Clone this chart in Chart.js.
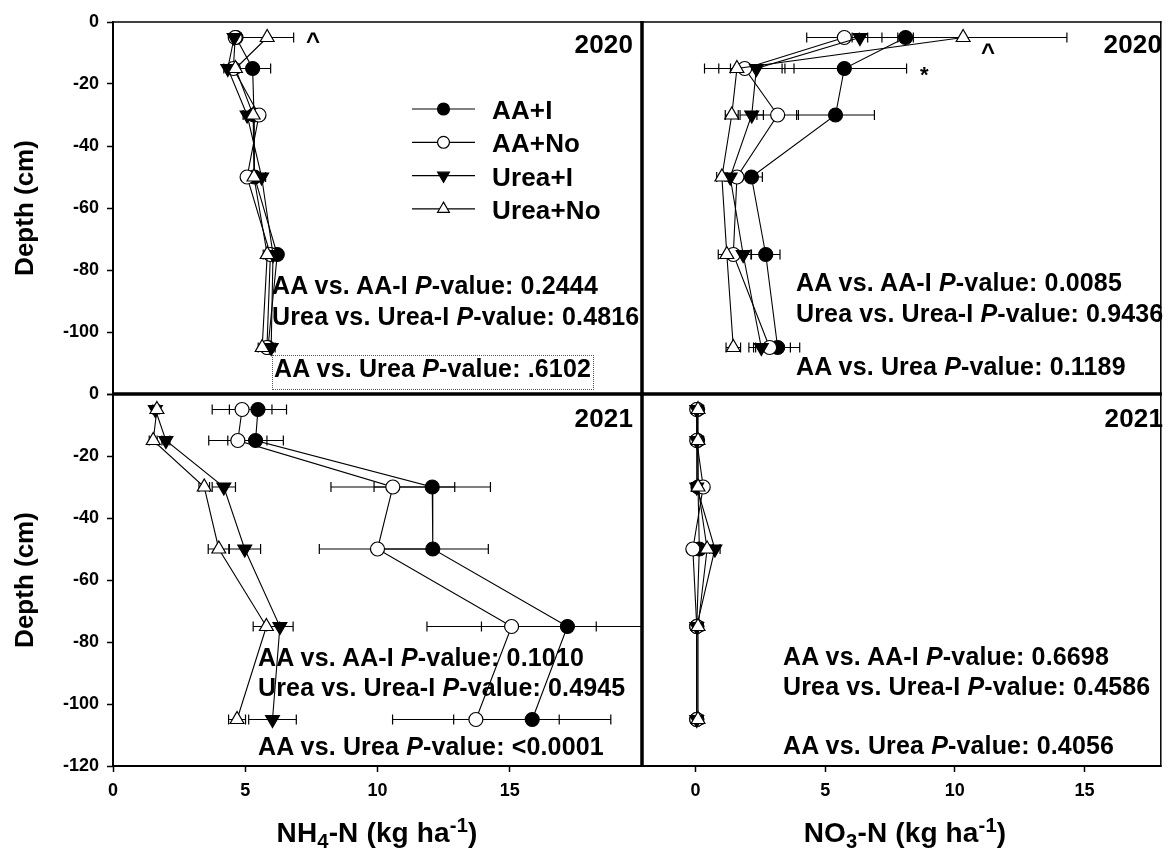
<!doctype html>
<html lang="en">
<head>
  <meta charset="utf-8">
  <title>Soil NH4-N and NO3-N by depth, 2020-2021</title>
  <script src="https://cdn.jsdelivr.net/npm/chart.js"></script>
  <style>
    html, body { margin: 0; padding: 0; background: #fff; }
    #fig {
      position: relative; width: 1170px; height: 863px; overflow: hidden;
      font-family: "Liberation Sans", Arial, sans-serif; font-weight: bold; color: #000;
    }
    #fig canvas { position: absolute; left: 0; top: 0; }
    .t { position: absolute; line-height: 1; white-space: nowrap; letter-spacing: 0.15px; }
    .t sub, .t sup { font-size: 72%; line-height: 0; }
    .t sub { vertical-align: -0.28em; }
    .t sup { vertical-align: 0.5em; }
    .box { position: absolute; border: 1px dotted #555; }
  </style>
</head>
<body>
  <div id="fig">
    <canvas id="nh4_20" width="1170" height="863"></canvas>
    <canvas id="no3_20" width="1170" height="863"></canvas>
    <canvas id="nh4_21" width="1170" height="863"></canvas>
    <canvas id="no3_21" width="1170" height="863"></canvas>
  </div>

  <script>
    // ---- data ----
    const depths = [-5, -15, -30, -50, -75, -105];
    const seriesNames = ["AA+I", "AA+No", "Urea+I", "Urea+No"];
    const depthTicksStep = 20;
    const xTicks = [0, 5, 10, 15];

    // NH4-N 2020
    const nh4_2020_aaI      = [4.65, 5.28, 5.33, 5.35, 6.21, 5.86];
    const nh4_2020_aaI_se   = [0.15, 0.68, 0.15, 0.15, 0.15, 0.15];
    const nh4_2020_aaNo     = [4.62, 4.55, 5.52, 5.07, 5.95, 5.82];
    const nh4_2020_aaNo_se  = [0.15, 0.15, 0.15, 0.15, 0.15, 0.15];
    const nh4_2020_ureaI    = [4.58, 4.34, 5.07, 5.62, 6.05, 5.98];
    const nh4_2020_ureaI_se = [0.15, 0.15, 0.15, 0.15, 0.15, 0.15];
    const nh4_2020_ureaNo   = [5.83, 4.63, 5.30, 5.33, 5.83, 5.64];
    const nh4_2020_ureaNo_se= [1.0, 0.15, 0.15, 0.15, 0.15, 0.15];

    // NO3-N 2020
    const no3_2020_aaI      = [8.10, 5.74, 5.40, 2.16, 2.71, 3.17];
    const no3_2020_aaI_se   = [0.3, 2.4, 1.5, 0.42, 0.55, 0.85];
    const no3_2020_aaNo     = [5.74, 1.90, 3.17, 1.60, 1.46, 2.86];
    const no3_2020_aaNo_se  = [1.45, 1.55, 0.8, 0.2, 0.2, 0.8];
    const no3_2020_ureaI    = [6.34, 2.35, 2.17, 1.34, 1.84, 2.54];
    const no3_2020_ureaI_se = [0.3, 1.45, 0.45, 0.2, 0.3, 0.3];
    const no3_2020_ureaNo   = [10.32, 1.60, 1.40, 1.02, 1.21, 1.46];
    const no3_2020_ureaNo_se= [4.0, 0.25, 0.25, 0.2, 0.33, 0.28];

    // NH4-N 2021
    const nh4_2021_aaI      = [5.48, 5.39, 12.07, 12.09, 17.18, 15.85];
    const nh4_2021_aaI_se   = [1.08, 1.05, 2.2, 2.1, 3.25, 2.97];
    const nh4_2021_aaNo     = [4.88, 4.72, 10.58, 10.00, 15.07, 13.72];
    const nh4_2021_aaNo_se  = [1.13, 1.1, 2.34, 2.2, 3.2, 3.15];
    const nh4_2021_ureaI    = [1.60, 2.00, 4.19, 4.98, 6.31, 6.03];
    const nh4_2021_ureaI_se = [0.1, 0.15, 0.44, 0.6, 0.5, 0.9];
    const nh4_2021_ureaNo   = [1.66, 1.52, 3.45, 4.00, 5.80, 4.69];
    const nh4_2021_ureaNo_se= [0.1, 0.15, 0.2, 0.4, 0.5, 0.32];

    // NO3-N 2021
    const no3_2021_aaI      = [0.08, 0.08, 0.10, 0.15, 0.05, 0.05];
    const no3_2021_aaI_se   = [0.2, 0.2, 0.2, 0.2, 0.2, 0.2];
    const no3_2021_aaNo     = [0.05, 0.05, 0.30, -0.10, 0.05, 0.05];
    const no3_2021_aaNo_se  = [0.2, 0.2, 0.2, 0.2, 0.2, 0.2];
    const no3_2021_ureaI    = [0.05, 0.05, 0.05, 0.75, 0.05, 0.05];
    const no3_2021_ureaI_se = [0.2, 0.2, 0.2, 0.2, 0.2, 0.2];
    const no3_2021_ureaNo   = [0.10, 0.10, 0.10, 0.45, 0.10, 0.10];
    const no3_2021_ureaNo_se= [0.2, 0.2, 0.2, 0.2, 0.2, 0.2];

    const FONT = '"Liberation Sans", Arial, sans-serif';

    // marker per series: filled/open circle, filled down-triangle, open triangle
    const markers = [
      { style: "circle",   rot: 0,   r: 7, fill: "#000" },
      { style: "circle",   rot: 0,   r: 7, fill: "#fff" },
      { style: "triangle", rot: 180, r: 8, fill: "#000" },
      { style: "triangle", rot: 0,   r: 8, fill: "#fff" }
    ];

    function drawMarker(ctx, m, x, y, r) {
      ctx.beginPath();
      if (m.style === "circle") {
        ctx.arc(x, y, r, 0, Math.PI * 2);
      } else {
        const s = m.rot ? -1 : 1;
        ctx.moveTo(x, y - s * r);
        ctx.lineTo(x + r * 0.866, y + s * r * 0.5);
        ctx.lineTo(x - r * 0.866, y + s * r * 0.5);
        ctx.closePath();
      }
      ctx.fillStyle = m.fill;
      ctx.fill();
      ctx.lineWidth = 1.2;
      ctx.strokeStyle = "#000";
      ctx.stroke();
    }

    // horizontal error bars, drawn under the lines and markers
    const errorBars = {
      id: "errbars",
      beforeDatasetsDraw(c) {
        const ctx = c.ctx, xs = c.scales.x, ys = c.scales.y, a = c.chartArea;
        ctx.save();
        ctx.beginPath();
        ctx.rect(a.left, a.top, a.right - a.left, a.bottom - a.top);
        ctx.clip();
        ctx.strokeStyle = "#000";
        ctx.lineWidth = 1.2;
        c.data.datasets.forEach(ds => ds.data.forEach((p, i) => {
          const e = ds.err[i];
          if (!e) return;
          const x1 = xs.getPixelForValue(p.x - e), x2 = xs.getPixelForValue(p.x + e);
          const y = ys.getPixelForValue(p.y);
          ctx.beginPath();
          ctx.moveTo(x1, y); ctx.lineTo(x2, y);
          ctx.moveTo(x1, y - 5); ctx.lineTo(x1, y + 5);
          ctx.moveTo(x2, y - 5); ctx.lineTo(x2, y + 5);
          ctx.stroke();
        }));
        ctx.restore();
      }
    };

    // panel frame, thicker where panels meet
    const frame = {
      id: "frame",
      afterDraw(c, args, o) {
        const { left, right, top, bottom } = c.chartArea;
        const ctx = c.ctx;
        ctx.save();
        ctx.strokeStyle = "#000";
        const side = (w, x1, y1, x2, y2) => {
          ctx.lineWidth = w;
          ctx.beginPath(); ctx.moveTo(x1, y1); ctx.lineTo(x2, y2); ctx.stroke();
        };
        side(o.t, left - o.l / 2, top, right + o.r / 2, top);
        side(o.b, left - o.l / 2, bottom, right + o.r / 2, bottom);
        side(o.l, left, top - o.t / 2, left, bottom + o.b / 2);
        side(o.r, right, top - o.t / 2, right, bottom + o.b / 2);
        ctx.restore();
      }
    };

    // legend inside the first panel (line + marker per series)
    const legendBox = {
      id: "legendBox",
      afterDatasetsDraw(c, args, o) {
        if (!o.show) return;
        const ctx = c.ctx;
        ctx.save();
        c.data.datasets.forEach((ds, k) => {
          const y = o.y + k * o.gap;
          ctx.strokeStyle = "#000";
          ctx.lineWidth = 1.2;
          ctx.beginPath(); ctx.moveTo(o.x, y); ctx.lineTo(o.x + o.w, y); ctx.stroke();
          drawMarker(ctx, markers[k], o.x + o.w / 2, y, markers[k].r * 0.85);
        });
        ctx.restore();
      }
    };

    function panel(id, vals, errs, o) {
      const sets = seriesNames.map((name, k) => ({
        label: name,
        order: seriesNames.length - k,   // later series drawn on top
        data: depths.map((d, i) => ({ x: vals[k][i], y: d })),
        err: errs[k],
        showLine: true,
        borderColor: "#000",
        borderWidth: 1.1,
        tension: 0,
        pointStyle: markers[k].style,
        pointRotation: markers[k].rot,
        pointRadius: markers[k].r,
        pointHoverRadius: markers[k].r,
        pointBackgroundColor: markers[k].fill,
        pointBorderColor: "#000",
        pointBorderWidth: 1.2
      }));

      return new Chart(document.getElementById(id), {
        type: "scatter",
        data: { datasets: sets },
        options: {
          responsive: false,
          animation: false,
          events: [],
          layout: { padding: o.pad },
          plugins: {
            legend: { display: false },
            tooltip: { enabled: false },
            frame: o.frame,
            legendBox: o.legend || { show: false }
          },
          scales: {
            x: {
              type: "linear",
              min: o.xmin, max: o.xmax,
              display: o.showX,
              afterBuildTicks: s => { s.ticks = xTicks.map(v => ({ value: v })); },
              ticks: { color: "#000", padding: 8, autoSkip: false, maxRotation: 0,
                       font: { family: FONT, size: 18, weight: "bold" } },
              grid: { drawOnChartArea: false, drawTicks: true, tickLength: 6,
                      tickColor: "#000", tickWidth: 1.5 },
              border: { display: false },
              afterFit: s => { s.height = o.showX ? 40 : 0; }
            },
            y: {
              type: "linear",
              min: -120, max: 0,
              display: o.showY,
              ticks: {
                stepSize: depthTicksStep, color: "#000", padding: 8,
                font: { family: FONT, size: 18, weight: "bold" },
                callback: v => (o.hideLast && v === -120) ? "" : String(v)
              },
              grid: { drawOnChartArea: false, drawTicks: true, tickLength: 6,
                      tickColor: "#000", tickWidth: 1.5 },
              border: { display: false },
              title: { display: o.showY, text: "Depth (cm)", color: "#000",
                       font: { family: FONT, size: 26, weight: "bold" },
                       padding: { top: 10, bottom: 0 } },
              afterFit: s => { s.width = o.showY ? 113 : 0; }
            }
          }
        },
        plugins: [errorBars, legendBox, frame]
      });
    }

    panel("nh4_20",
      [nh4_2020_aaI, nh4_2020_aaNo, nh4_2020_ureaI, nh4_2020_ureaNo],
      [nh4_2020_aaI_se, nh4_2020_aaNo_se, nh4_2020_ureaI_se, nh4_2020_ureaNo_se],
      { xmin: 0, xmax: 20, showX: false, showY: true, hideLast: true,
        pad: { left: 0, top: 22, right: 528, bottom: 469 },
        frame: { t: 1.5, r: 3, b: 3, l: 2 },
        legend: { show: true, x: 412, y: 109, w: 63, gap: 33.3 } });

    panel("no3_20",
      [no3_2020_aaI, no3_2020_aaNo, no3_2020_ureaI, no3_2020_ureaNo],
      [no3_2020_aaI_se, no3_2020_aaNo_se, no3_2020_ureaI_se, no3_2020_ureaNo_se],
      { xmin: -2.06, xmax: 17.94, showX: false, showY: false,
        pad: { left: 642, top: 22, right: 1, bottom: 469 },
        frame: { t: 1.5, r: 1.5, b: 3, l: 3 } });

    panel("nh4_21",
      [nh4_2021_aaI, nh4_2021_aaNo, nh4_2021_ureaI, nh4_2021_ureaNo],
      [nh4_2021_aaI_se, nh4_2021_aaNo_se, nh4_2021_ureaI_se, nh4_2021_ureaNo_se],
      { xmin: 0, xmax: 20, showX: true, showY: true, hideLast: false,
        pad: { left: 0, top: 394, right: 528, bottom: 57 },
        frame: { t: 3, r: 3, b: 2, l: 2 } });

    panel("no3_21",
      [no3_2021_aaI, no3_2021_aaNo, no3_2021_ureaI, no3_2021_ureaNo],
      [no3_2021_aaI_se, no3_2021_aaNo_se, no3_2021_ureaI_se, no3_2021_ureaNo_se],
      { xmin: -2.06, xmax: 17.94, showX: true, showY: false,
        pad: { left: 642, top: 394, right: 1, bottom: 57 },
        frame: { t: 3, r: 1.5, b: 2, l: 3 } });

    // ---- text on the figure ----
    const fig = document.getElementById("fig");
    function txt(html, x, base, size, align) {
      const d = document.createElement("div");
      d.className = "t";
      d.style.fontSize = size + "px";
      d.style.top = (base - 0.8465 * size) + "px";
      if (align === "right") d.style.right = (1170 - x) + "px";
      else if (align === "center") { d.style.left = x + "px"; d.style.transform = "translateX(-50%)"; }
      else d.style.left = x + "px";
      d.innerHTML = html;
      fig.appendChild(d);
      return d;
    }

    const pLabel = (a, b, v) => a + " vs. " + b + " <i>P</i>-value: " + v;

    // 2020 NH4
    txt("2020", 633, 53, 26, "right");
    txt("^", 306, 49, 24);
    seriesNames.forEach((n, k) => txt(n, 492, 119 + k * 33.3, 26));
    txt(pLabel("AA", "AA-I", "0.2444"), 272, 294, 25);
    txt(pLabel("Urea", "Urea-I", "0.4816"), 272, 325, 25);
    txt(pLabel("AA", "Urea", ".6102"), 274, 377, 25);
    const bx = document.createElement("div");
    bx.className = "box";
    Object.assign(bx.style, { left: "272px", top: "355px", width: "320px", height: "33px" });
    fig.appendChild(bx);

    // 2020 NO3
    txt("2020", 1162, 53, 26, "right");
    txt("^", 981, 60, 24);
    txt("*", 920, 83, 22);
    txt(pLabel("AA", "AA-I", "0.0085"), 796, 291, 25);
    txt(pLabel("Urea", "Urea-I", "0.9436"), 796, 322, 25);
    txt(pLabel("AA", "Urea", "0.1189"), 796, 375, 25);

    // 2021 NH4
    txt("2021", 633, 427, 26, "right");
    txt(pLabel("AA", "AA-I", "0.1010"), 258, 666, 25);
    txt(pLabel("Urea", "Urea-I", "0.4945"), 258, 696, 25);
    txt(pLabel("AA", "Urea", "&lt;0.0001"), 258, 755, 25);

    // 2021 NO3
    txt("2021", 1163, 427, 26, "right");
    txt(pLabel("AA", "AA-I", "0.6698"), 783, 665, 25);
    txt(pLabel("Urea", "Urea-I", "0.4586"), 783, 695, 25);
    txt(pLabel("AA", "Urea", "0.4056"), 783, 754, 25);

    // x-axis titles
    txt("NH<sub>4</sub>-N (kg ha<sup>-1</sup>)", 377, 843, 28, "center");
    txt("NO<sub>3</sub>-N (kg ha<sup>-1</sup>)", 905, 843, 28, "center");
  </script>
</body>
</html>
